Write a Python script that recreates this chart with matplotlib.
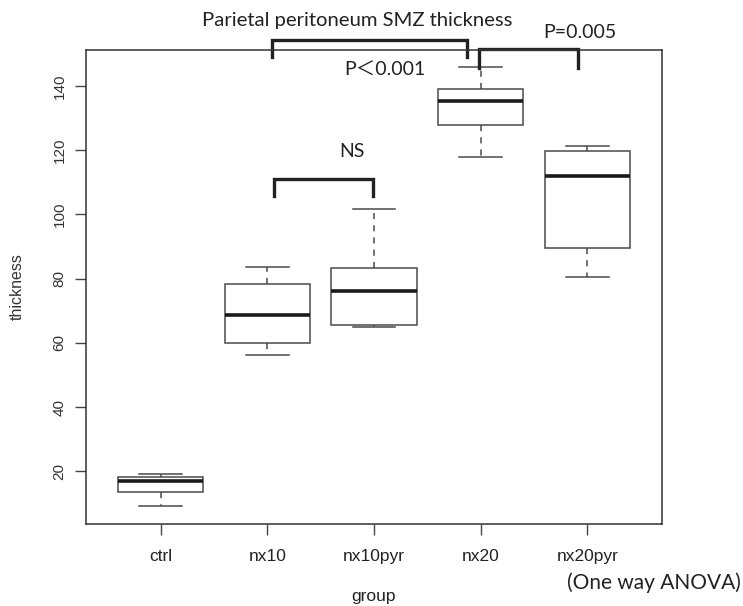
import matplotlib
matplotlib.use("Agg")
from matplotlib import pyplot as plt

# box stats (whisker low, q1, median, q3, whisker high)
groups = ["ctrl", "nx10", "nx10pyr", "nx20", "nx20pyr"]
whisk_lo = [9.1, 56.1, 65.0, 118.0, 80.4]
q1 = [13.6, 60.0, 65.6, 127.9, 89.5]
med = [17.0, 68.6, 76.2, 135.4, 111.9]
q3 = [18.3, 78.3, 83.4, 139.0, 119.7]
whisk_hi = [19.3, 83.7, 101.7, 145.8, 121.3]

yticks = [20, 40, 60, 80, 100, 120, 140]

# significance brackets: (x start, x end, y top, y leg end)
brackets = [
    (2.04, 3.87, 154.4, 149.1),
    (3.98, 4.91, 151.6, 145.7),
    (2.06, 2.99, 111.0, 105.6),
]

ann_font = ["Lato", "Noto Sans CJK JP", "DejaVu Sans"]
lab_font = ["Liberation Sans Narrow", "Liberation Sans", "DejaVu Sans"]

fig = plt.figure(figsize=(7.43, 6.06), dpi=100)
ax = fig.add_axes([86 / 743, 1 - 524 / 606, 576 / 743, 474 / 606])

stats = []
for i, g in enumerate(groups):
    stats.append(dict(label=g, whislo=whisk_lo[i], q1=q1[i], med=med[i],
                      q3=q3[i], whishi=whisk_hi[i], fliers=[]))

ax.bxp(stats, positions=range(1, len(groups) + 1), widths=0.8,
       showfliers=False, patch_artist=True,
       boxprops=dict(facecolor="white", edgecolor="#4a4a4a", linewidth=1.1),
       medianprops=dict(color="#1a1a1a", linewidth=2.6, solid_capstyle="butt"),
       whiskerprops=dict(color="#4a4a4a", linewidth=1.1, linestyle=(0, (4, 4))),
       capprops=dict(color="#4a4a4a", linewidth=1.1), capwidths=0.4)

ax.set_xlim(0.3, 5.7)
ax.set_ylim(3.6, 151.2)
ax.set_yticks(yticks)
ax.set_yticklabels([str(v) for v in yticks], rotation=90, va="center",
                   fontsize=11, color="#333333", family="Liberation Sans")
ax.set_xticks(range(1, len(groups) + 1))
ax.set_xticklabels(groups, fontsize=12.5, color="#222222", family=lab_font)
ax.tick_params(axis="both", length=8, width=1, color="#444444")
ax.tick_params(axis="y", pad=6)
ax.tick_params(axis="x", pad=10)
for s in ax.spines.values():
    s.set_linewidth(1.1)
    s.set_color("#333333")

ax.set_ylabel("thickness", fontsize=11.5, color="#333333",
              family="Liberation Sans", va="center")
ax.yaxis.set_label_coords(-0.12, 0.5)
ax.set_xlabel("group", fontsize=12.5, color="#222222", family=lab_font,
              va="center")
ax.xaxis.set_label_coords(0.5, -0.152)

for x0, x1, ytop, yleg in brackets:
    ax.plot([x0, x0, x1, x1], [yleg, ytop, ytop, yleg], color="#222222",
            linewidth=2.4, clip_on=False, solid_joinstyle="miter")

ax.text(2.84, 160.5, "Parietal peritoneum SMZ thickness", ha="center",
        va="center", fontsize=14.6, family=ann_font, color="#222222")
ax.text(3.10, 145.0, "P\uff1c0.001", ha="center", va="center",
        fontsize=14, family=ann_font, color="#222222")
ax.text(4.93, 156.5, "P=0.005", ha="center", va="center",
        fontsize=14, family=ann_font, color="#222222")
ax.text(2.79, 119.7, "NS", ha="center", va="center",
        fontsize=14, family=ann_font, color="#222222")
fig.text(741 / 743, 1 - 583 / 606, "(One way ANOVA)", ha="right",
         va="center", fontsize=15, family=ann_font, color="#222222")

fig.savefig("out.png", dpi=100)
